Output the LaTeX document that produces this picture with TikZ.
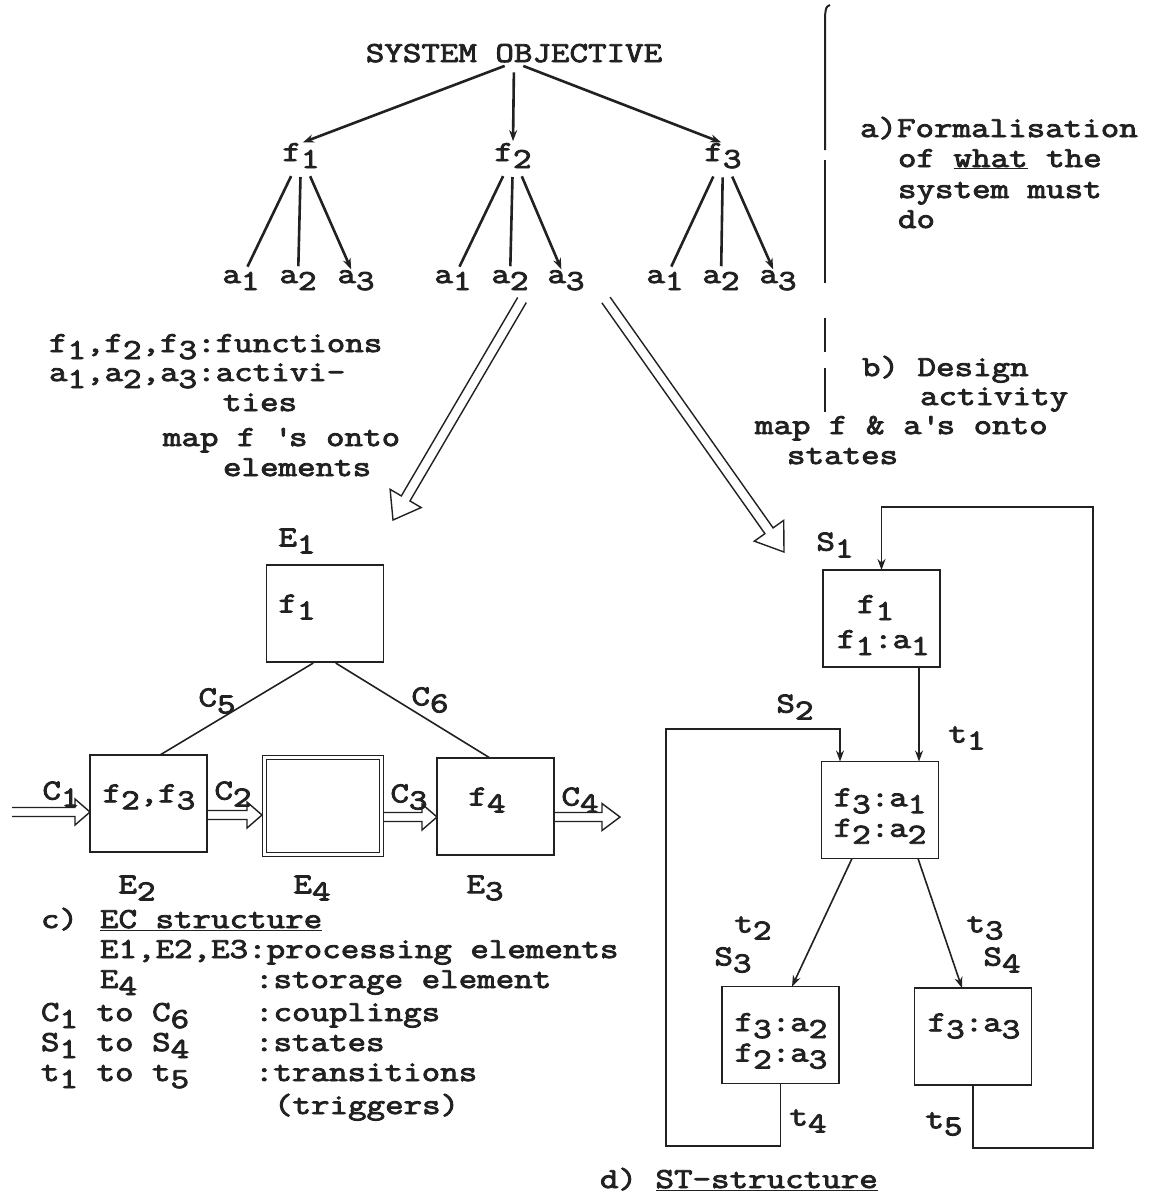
\documentclass[tikz,border=0pt]{standalone}
\usepackage{fontspec}
\setmainfont{Latin Modern Mono}[FakeStretch=1.24, FakeBold=3]
\usetikzlibrary{calc,arrows.meta}
\newcommand\sbs[1]{\raisebox{-7pt}{#1}}
\definecolor{ink}{gray}{0.13}
\tikzset{
  txt/.style={inner sep=0pt, outer sep=0pt, text=ink, font=\fontsize{29pt}{30.5pt}\selectfont},
  box/.style={draw=ink, line width=1.6pt, minimum width=117pt, minimum height=97pt, inner sep=0pt},
  tree/.style={draw=ink, line width=2.6pt},
  conn/.style={draw=ink, line width=1.6pt},
  arr/.style={-{Stealth[length=11pt,width=8pt]}},
  hollow/.style={draw=ink, line width=1.4pt, line join=miter},
  bar/.style={draw=ink, line width=2pt},
}
\newcommand\harrow[5]{%
  \coordinate (hq) at ($(#2)!#5!(#1)$);
  \draw[hollow] ($(#1)!#3!90:(#2)$) -- ($(hq)!#3!90:(#2)$) -- ($(hq)!#4!90:(#2)$) -- (#2)
     -- ($(hq)!#4!-90:(#2)$) -- ($(hq)!#3!-90:(#2)$) -- ($(#1)!#3!-90:(#2)$);
}
\begin{document}
\begin{tikzpicture}[x=1pt,y=-1pt, every node/.style={txt}]
\fill[white] (0,0) rectangle (1152,1197);
\useasboundingbox (0,0) rectangle (1152,1197);

% ---------- tree ----------
\node[anchor=base] (SO) at (514,62) {SYSTEM OBJECTIVE};
\node[anchor=base] (f1) at (301,161) {f\sbs1};
\node[anchor=base] (f2) at (513,161) {f\sbs2};
\node[anchor=base] (f3) at (723,161) {f\sbs3};
\node[anchor=base] (a11) at (241,283) {a\sbs1};
\node[anchor=base] (a12) at (298,283) {a\sbs2};
\node[anchor=base] (a13) at (356,283) {a\sbs3};
\node[anchor=base] (a21) at (453,283) {a\sbs1};
\node[anchor=base] (a22) at (510,283) {a\sbs2};
\node[anchor=base] (a23) at (566,283) {a\sbs3};
\node[anchor=base] (a31) at (665,283) {a\sbs1};
\node[anchor=base] (a32) at (721,283) {a\sbs2};
\node[anchor=base] (a33) at (778,283) {a\sbs3};

\foreach \f in {f1,f2,f3}{
  \draw[tree,arr,shorten <=10pt,shorten >=2pt] (SO.south) -- (\f.north);
}
\foreach \i in {1,2,3}{
  \draw[tree,shorten <=9pt,shorten >=4pt] (f\i) -- (a\i1);
  \draw[tree,shorten <=9pt,shorten >=4pt] (f\i) -- (a\i2);
  \draw[tree,arr,shorten <=9pt,shorten >=1pt] (f\i) -- (a\i3);
}

% ---------- right bar and notes ----------
\draw[bar] (830,5) .. controls (826,7) .. (825,16) -- (825,150);
\draw[bar] (825,160) -- (825,283);
\draw[bar] (825,318) -- (825,352);
\draw[bar] (825,368) -- (825,412);
\node[anchor=base west] (ra1) at (860,137) {a)Formalisation};
\node[anchor=base west] (ra2) at (898,167) {of \underline{what} the};
\node[anchor=base west] (ra3) at (898,198) {system must};
\node[anchor=base west] (ra4) at (898,228) {do};
\node[anchor=base west] (rb1) at (862,376) {b) Design};
\node[anchor=base west] (rb2) at (920,405) {activity};
\node[anchor=base west] (rb3) at (755,434) {map f \& a\textquotesingle s onto};
\node[anchor=base west] (rb4) at (787,464) {states};

% ---------- left notes ----------
\node[anchor=base west] (ln1) at (49,352) {f\sbs1,f\sbs2,f\sbs3:functions};
\node[anchor=base west] (ln2) at (49,381) {a\sbs1,a\sbs2,a\sbs3:activi-};
\node[anchor=base west] (ln3) at (223,411) {ties};
\node[anchor=base west] (ln4) at (163,446) {map f \textquotesingle s onto};
\node[anchor=base west] (ln5) at (223,476) {elements};

% ---------- big hollow arrows ----------
\coordinate (LA0) at (522,300);
\coordinate (LA1) at (393,520);
\harrow{LA0}{LA1}{5pt}{18pt}{25pt}
\coordinate (RA0) at (606,300);
\coordinate (RA1) at (784,552);
\harrow{RA0}{RA1}{5pt}{18pt}{26pt}

% ---------- EC structure ----------
\node[box] (E1) at (325,613.5) {};
\node (E1f) at (297,607) {f\sbs1};
\node (E1l) at (297,541) {E\sbs1};
\node[box] (E2) at (148.5,803.5) {};
\node (E2f) at (149,797) {f\sbs2,f\sbs3};
\node (E2l) at (137,888) {E\sbs2};
\node[box, double=white, double distance=3pt, line width=1.2pt] (E4) at (323,806) {};
\node (E4l) at (312,888) {E\sbs4};
\node[box] (E3) at (495.5,806.5) {};
\node (E3f) at (487,800) {f\sbs4};
\node (E3l) at (485,888) {E\sbs3};

\node (C1) at (61,794) {C\sbs1};
\node (C2) at (233,794) {C\sbs2};
\node (C3) at (409,797) {C\sbs3};
\node (C4) at (580,800) {C\sbs4};
\node (C5) at (217,701) {C\sbs5};
\node (C6) at (430,700) {C\sbs6};

\draw[conn,shorten <=2pt] ([xshift=-10pt]E1.south) -- ([xshift=11.5pt]E2.north);
\draw[conn,shorten <=2pt] ([xshift=9pt]E1.south) -- ([xshift=-5.5pt]E3.north);

\coordinate (c1s) at (12,812);
\coordinate (c1e) at ([yshift=-8.5pt]E2.west);
\harrow{c1s}{c1e}{4.5pt}{13pt}{15pt}
\coordinate (c2s) at ([yshift=-11.5pt]E2.east);
\coordinate (c2e) at ([yshift=-9pt,xshift=-2.5pt]E4.west);
\harrow{c2s}{c2e}{4.5pt}{13pt}{15pt}
\coordinate (c3s) at ([yshift=-11pt,xshift=2.7pt]E4.east);
\coordinate (c3e) at ([yshift=-10.5pt]E3.west);
\harrow{c3s}{c3e}{4.5pt}{13pt}{15pt}
\coordinate (c4s) at ([yshift=-10.5pt]E3.east);
\coordinate (c4e) at (620,817);
\harrow{c4s}{c4e}{4.5pt}{13.5pt}{18pt}

% ---------- legend ----------
\node[anchor=base west] (lc) at (41,928) {c)};
\node[anchor=base west] (lc2) at (100,928) {\underline{EC structure}};
\node[anchor=base west] (l1) at (100,958) {E1,E2,E3:processing elements};
\node[anchor=base west] (l2a) at (100,988) {E\sbs4};
\node[anchor=base west] (l2b) at (255,988) {:storage element};
\node[anchor=base west] (l3a) at (41,1021) {C\sbs1 to C\sbs6};
\node[anchor=base west] (l3b) at (255,1021) {:couplings};
\node[anchor=base west] (l4a) at (41,1051) {S\sbs1 to S\sbs4};
\node[anchor=base west] (l4b) at (255,1051) {:states};
\node[anchor=base west] (l5a) at (41,1081) {t\sbs1 to t\sbs5};
\node[anchor=base west] (l5b) at (255,1081) {:transitions};
\node[anchor=base west] (l6) at (274,1114) {(triggers)};

% ---------- ST structure ----------
\node[box] (S1) at (881.5,618.5) {};
\node[anchor=base west] (S1ta) at (857,613) {f\sbs1};
\node[anchor=base west] (S1tb) at (837,648) {f\sbs1:a\sbs1};
\node (S1l) at (835,545) {S\sbs1};
\node[box] (S2) at (880,810) {};
\node[align=left] (S2t) at (880,816) {f\sbs3:a\sbs1\\f\sbs2:a\sbs2};
\node (S2l) at (795,707) {S\sbs2};
\node (t1) at (967,738) {t\sbs1};
\node[box] (S3) at (780.5,1035) {};
\node[align=left] (S3t) at (781,1041) {f\sbs3:a\sbs2\\f\sbs2:a\sbs3};
\node[box] (S4) at (973,1036.5) {};
\node (S4t) at (974,1026) {f\sbs3:a\sbs3};
\node (t2) at (753,928) {t\sbs2};
\node (S3l) at (733,960) {S\sbs3};
\node (t3) at (985,928) {t\sbs3};
\node (S4l) at (1002,960) {S\sbs4};
\node (t4) at (808,1121) {t\sbs4};
\node (t5) at (944,1124) {t\sbs5};
\node[anchor=base west] (dl) at (600,1188) {d) \underline{ST-structure}};

\draw[conn,arr] ([xshift=37.5pt]S1.south) -- ([xshift=39pt]S2.north);
\draw[conn,arr] ([xshift=-28pt]S2.south) -- ([xshift=11.5pt]S3.north);
\draw[conn,arr] ([xshift=38pt]S2.south) -- ([xshift=-11pt]S4.north);
\coordinate (LL) at (666,1146);
\coordinate (LT) at (666,729);
\draw[conn,arr] (S3.south) |- (LL) -- (LT) -| ([xshift=-40pt]S2.north);
\coordinate (RL) at (1093,1148);
\coordinate (RT) at (1093,507);
\draw[conn,arr] (S4.south) |- (RL) -- (RT) -| (S1.north);
\end{tikzpicture}
\end{document}
